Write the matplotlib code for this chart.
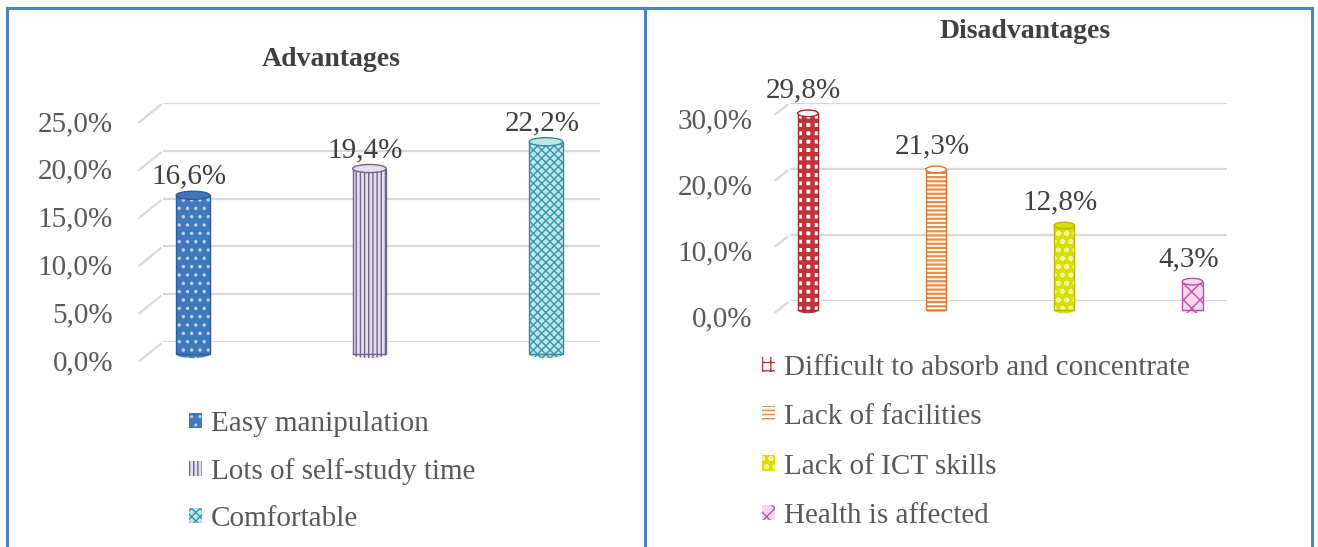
import matplotlib
matplotlib.use('Agg')
import matplotlib.pyplot as plt
from matplotlib import transforms
from matplotlib.patches import Ellipse, Patch
from matplotlib.lines import Line2D

plt.rcParams['font.family'] = ['Liberation Serif', 'DejaVu Serif']

# data
adv_labels = ['Easy manipulation', 'Lots of self-study time', 'Comfortable']
adv_values = [16.6, 19.4, 22.2]
adv_ticks = [0, 5, 10, 15, 20, 25]

dis_labels = ['Difficult to absorb and concentrate', 'Lack of facilities',
              'Lack of ICT skills', 'Health is affected']
dis_values = [29.8, 21.3, 12.8, 4.3]
dis_ticks = [0, 10, 20, 30]

# styles: (face, hatch colour, hatch, hatch lw, outline)
adv_styles = [('#3F78BC', '#BFD6F0', '..', 1.2, '#2E5C93'),
              ('#E6DFF0', '#6F6585', '||||', 1.0, '#6F6585'),
              ('#BFE4EC', '#3A98AC', 'xxxx', 1.0, '#3A8797')]
dis_styles = [('#FFFFFF', '#C0343C', '++', 3.2, '#A0282F'),
              ('#FFFFFF', '#EE8B3E', '----', 1.6, '#D97A30'),
              ('#D8E000', '#F4F6B0', 'oo', 1.0, '#B4BC00'),
              ('#F6D9EE', '#C54EA0', 'xx', 1.0, '#C54EA0')]

TXT = '#595959'
GRID = '#D9D9D9'
FS = 21

fig = plt.figure(figsize=(13.18, 5.47), dpi=100)
W, H = 1318, 547


def px_axes(l, t, r, b):
    return fig.add_axes([l / W, 1 - b / H, (r - l) / W, (b - t) / H])


def pct(v):
    return f'{v:.1f}'.replace('.', ',') + '%'


def draw_panel(ax, values, ticks, styles, xlim, width, cap_h, dx, dy, bar_dy, label_dy, pad, txt_up):
    ax.set_xlim(*xlim)
    ax.set_ylim(ticks[0], ticks[-1])
    for s in ax.spines.values():
        s.set_visible(False)
    ax.set_xticks([])
    ax.set_yticks(ticks)
    ax.set_yticklabels([pct(t) for t in ticks], fontsize=FS, color=TXT)
    ax.tick_params(axis='y', length=0, pad=pad)
    off = transforms.ScaledTranslation(0, -label_dy / 72, fig.dpi_scale_trans)
    for lab in ax.get_yticklabels():
        lab.set_transform(lab.get_transform() + off)
    ax.grid(axis='y', color=GRID, lw=1.6)
    ax.set_axisbelow(True)
    # slanted floor/wall edges of the 3D look
    for t in ticks:
        ax.annotate('', xy=(0, t), xycoords=('axes fraction', 'data'),
                    xytext=(dx, dy), textcoords='offset pixels',
                    arrowprops=dict(arrowstyle='-', color=GRID, lw=1.6),
                    annotation_clip=False)

    tr = transforms.offset_copy(ax.transData, fig=fig, x=0, y=-bar_dy, units='dots')
    handles = []
    for i, (v, st) in enumerate(zip(values, styles)):
        face, hc, hatch, hlw, outline = st
        bot = Ellipse((i, 0), width, cap_h, facecolor=face, edgecolor=hc, hatch=hatch,
                      lw=0, transform=tr, zorder=2, clip_on=False)
        bar = ax.bar(i, v, width, color=face, edgecolor=hc, hatch=hatch, lw=0,
                     transform=tr, zorder=3, clip_on=False)[0]
        ax.bar(i, v, width, fill=False, edgecolor=outline, lw=1.0,
               transform=tr, zorder=4, clip_on=False)
        top = Ellipse((i, v), width, cap_h, facecolor=face, edgecolor=outline, lw=1.0,
                      transform=tr, zorder=5, clip_on=False)
        for p in (bot, bar, top):
            if hasattr(p, 'set_hatch_linewidth'):
                p.set_hatch_linewidth(hlw)
        ax.add_patch(bot)
        ax.add_patch(top)
        ax.annotate(pct(v), xy=(i, v), xycoords=tr, xytext=(-3, txt_up), textcoords='offset points',
                    ha='center', va='bottom', fontsize=FS, color='#404040', zorder=6,
                    annotation_clip=False)
        hp = Patch(facecolor=face, edgecolor=hc, hatch=hatch, lw=0)
        if hasattr(hp, 'set_hatch_linewidth'):
            hp.set_hatch_linewidth(hlw)
        handles.append(hp)
    return handles


# left panel: Advantages
ax1 = px_axes(163, 103, 600, 342)
h1 = draw_panel(ax1, adv_values, adv_ticks, adv_styles, (-0.17, 2.306), 0.19, 0.85,
                -26, -21, 12, 13, 36, 4)
fig.text(331 / W, 1 - 60 / H, 'Advantages', ha='center', va='center',
         fontsize=20, fontweight='bold', color='#404040')
fig.legend(h1, adv_labels, loc='upper left', bbox_to_anchor=(189 / W, 1 - 411 / H),
           frameon=False, fontsize=FS, labelcolor=TXT, handlelength=0.45, handleheight=0.45,
           handletextpad=0.3, labelspacing=0.72, borderaxespad=0, borderpad=0)

# right panel: Disadvantages
ax2 = px_axes(790, 103, 1227, 301)
h2 = draw_panel(ax2, dis_values, dis_ticks, dis_styles, (-0.14, 3.27), 0.16, 1.0,
                -17, -13, 9, 11, 27, 7)
fig.text(1025 / W, 1 - 32 / H, 'Disadvantages', ha='center', va='center',
         fontsize=20, fontweight='bold', color='#404040')
fig.legend(h2, dis_labels, loc='upper left', bbox_to_anchor=(762 / W, 1 - 355 / H),
           frameon=False, fontsize=FS, labelcolor=TXT, handlelength=0.45, handleheight=0.45,
           handletextpad=0.3, labelspacing=0.8, borderaxespad=0, borderpad=0)

# frame lines
BLUE = '#4F81BD'
for xs, ys in [((7, 7), (8, H)), ((1312, 1312), (8, H)), ((7, 1312), (8, 8)), ((645, 645), (8, H))]:
    fig.add_artist(Line2D([x / W for x in xs], [1 - y / H for y in ys], color=BLUE, lw=2.2,
                          transform=fig.transFigure))

fig.savefig('out.png', dpi=100)
